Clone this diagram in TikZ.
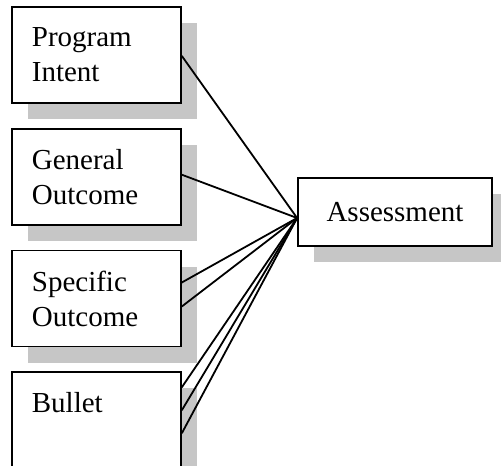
\documentclass[tikz,border=0pt]{standalone}
\usepackage{fontspec}
\setmainfont{Liberation Serif}
\usetikzlibrary{positioning,shadows}
\tikzset{
  BoxStyle/.style={draw,rectangle,fill=white,line width=1.8pt,
    font=\fontsize{29}{35}\selectfont,
    drop shadow={shadow xshift=16pt,shadow yshift=-16pt,fill=gray!45,opacity=1}},
  LeftBox/.style={BoxStyle,align=left,text width=129pt,inner xsep=20pt,
    minimum height=96pt},
  EdgeStyle/.style={line width=1.8pt}
}

\begin{document}
\begin{tikzpicture}[node distance=24pt]
    \useasboundingbox (0,0) rectangle (501pt,-466pt);

    \node[LeftBox,anchor=north west] (Intent) at (11pt,-6pt) {Program\\Intent};
    \node[LeftBox,below=of Intent] (General) {General\\Outcome};
    \node[LeftBox,below=of General] (Specific) {Specific\\Outcome};
    \node[LeftBox,below=of Specific] (Bullet) {Bullet\\~};
    \node[BoxStyle,minimum width=194pt,minimum height=68pt] (Assess) at (395pt,-212pt) {Assessment};
    \coordinate (Hub) at ([yshift=-6pt]Assess.west);

    \draw[EdgeStyle] ([yshift=-1pt]Intent.east) -- (Hub);
    \draw[EdgeStyle] ([yshift=2pt]General.east) -- (Hub);
    \draw[EdgeStyle] ([yshift=16pt]Specific.east) -- (Hub);
    \draw[EdgeStyle] ([yshift=-8pt]Specific.east) -- (Hub);
    \draw[EdgeStyle] ([yshift=33pt]Bullet.east) -- (Hub);
    \draw[EdgeStyle] ([yshift=10pt]Bullet.east) -- (Hub);
    \draw[EdgeStyle] ([yshift=-13pt]Bullet.east) -- (Hub);
\end{tikzpicture}
\end{document}
